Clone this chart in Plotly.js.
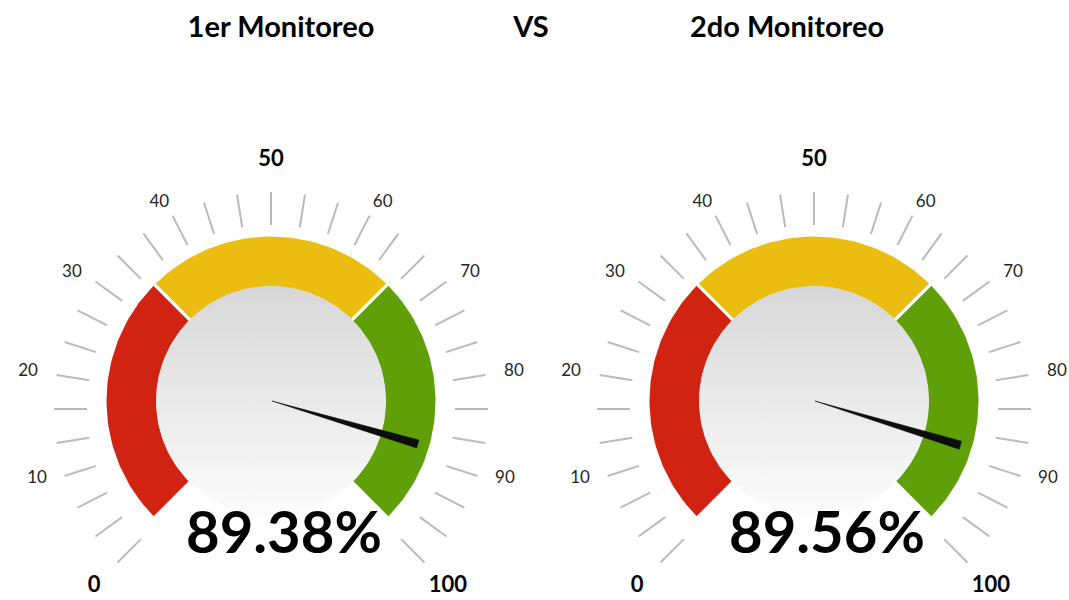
<!DOCTYPE html>
<html><head><meta charset="utf-8">
<script src="https://cdn.plot.ly/plotly-3.0.1.min.js"></script>
<style>html,body{margin:0;padding:0;background:#fff;overflow:hidden}</style>
</head><body><div id="chart" style="width:1069px;height:600px"></div>
<script>
// ---------------- data ----------------
const gaugeTitles = ['1er Monitoreo', '2do Monitoreo'];
const gaugeValues = [89.38, 89.56];
const separatorText = 'VS';
const scaleMin = 0;
const scaleMax = 100;
const tickLabelValues = [0, 10, 20, 30, 40, 50, 60, 70, 80, 90, 100];
const boldTickLabelValues = [0, 50, 100];
const minorTickIntervals = 30;
const bandFrom = [0, 33.333, 66.667];
const bandTo = [33.333, 66.667, 100];

// ---------------- layout / style ----------------
const W = 1069, H = 600;
const geo = {
  centersX: [271, 814],
  bandCenterY: H - 401,
  tickCenterY: H - 409,
  labelCenterY: H - 405, boldLabelCenterY: H - 407,
  textNudge: -3,
  startAngle: 225, sweep: 270,
  bandOuter: 166, bandInner: 115,
  tickInner: 184, tickOuter: 217,
  labelRx: 246, labelRy: 230, boldLabelR: 250,
  needleR: 153, needleHalfDeg: 1.55,
  valueDX: 13, valueY: H - 538,
  titleY: H - 30, titleX: [281, 787], vsX: 531
};
const style = {
  bandColors: ['#d12312', '#ebbd11', '#5f9f08'],
  tickColor: '#bababa',
  circleTop: '#d7d7d7', circleBottom: '#fcfcfc',
  needle: '#0d0d0d',
  font: 'Lato, "Open Sans", sans-serif'
};

function ang(v) { return (geo.startAngle - (v - scaleMin) / (scaleMax - scaleMin) * geo.sweep) * Math.PI / 180; }
function pt(cx, cy, r, a) { return [cx + r * Math.cos(a), cy + r * Math.sin(a)]; }

const traces = [];
gaugeValues.forEach((val, g) => {
  const cx = geo.centersX[g];
  const cyB = geo.bandCenterY, cyT = geo.tickCenterY;
  // ticks
  const tx = [], ty = [];
  for (let i = 0; i <= minorTickIntervals; i++) {
    const v = scaleMin + i * (scaleMax - scaleMin) / minorTickIntervals;
    const a = ang(v);
    const p1 = pt(cx, cyT, geo.tickInner, a), p2 = pt(cx, cyT, geo.tickOuter, a);
    tx.push(p1[0], p2[0], null); ty.push(p1[1], p2[1], null);
  }
  traces.push({type: 'scatter', mode: 'lines', x: tx, y: ty, line: {color: style.tickColor, width: 2}, hoverinfo: 'skip'});
  // bands
  bandFrom.forEach((b0, i) => {
    const b1 = bandTo[i];
    const xs = [], ys = [];
    const n = 60;
    for (let k = 0; k <= n; k++) { const p = pt(cx, cyB, geo.bandOuter, ang(b0 + (b1 - b0) * k / n)); xs.push(p[0]); ys.push(p[1]); }
    for (let k = n; k >= 0; k--) { const p = pt(cx, cyB, geo.bandInner - 2, ang(b0 + (b1 - b0) * k / n)); xs.push(p[0]); ys.push(p[1]); }
    xs.push(xs[0]); ys.push(ys[0]);
    traces.push({type: 'scatter', mode: 'lines', x: xs, y: ys, fill: 'toself', fillcolor: style.bandColors[i],
      line: {color: '#ffffff', width: 3}, hoverinfo: 'skip'});
  });
  // inner circle with vertical gradient
  const cxs = [], cys = [];
  for (let k = 0; k <= 180; k++) { const a = k / 180 * 2 * Math.PI; cxs.push(cx + geo.bandInner * Math.cos(a)); cys.push(cyB + geo.bandInner * Math.sin(a)); }
  traces.push({type: 'scatter', mode: 'lines', x: cxs, y: cys, fill: 'toself',
    fillgradient: {type: 'vertical', colorscale: [[0, style.circleBottom], [1, style.circleTop]]},
    line: {width: 0, color: 'rgba(0,0,0,0)'}, hoverinfo: 'skip'});
  // needle
  const a = ang(val), d = geo.needleHalfDeg * Math.PI / 180;
  const n1 = pt(cx, cyB, geo.needleR, a + d), n2 = pt(cx, cyB, geo.needleR, a - d);
  traces.push({type: 'scatter', mode: 'lines', x: [cx + 1, n1[0], n2[0], cx + 1], y: [cyB, n1[1], n2[1], cyB],
    fill: 'toself', fillcolor: style.needle, line: {color: style.needle, width: 0.5}, hoverinfo: 'skip'});
  // tick labels
  const reg = tickLabelValues.filter(v => !boldTickLabelValues.includes(v));
  const bold = tickLabelValues.filter(v => boldTickLabelValues.includes(v));
  traces.push({type: 'scatter', mode: 'text',
    x: reg.map(v => cx + geo.labelRx * Math.cos(ang(v))),
    y: reg.map(v => geo.labelCenterY + geo.labelRy * Math.sin(ang(v)) + geo.textNudge), text: reg.map(String),
    textfont: {family: style.font, size: 17, color: '#262626'}, textposition: 'middle center', hoverinfo: 'skip'});
  traces.push({type: 'scatter', mode: 'text',
    x: bold.map(v => cx + geo.boldLabelR * Math.cos(ang(v))),
    y: bold.map(v => geo.boldLabelCenterY + geo.boldLabelR * Math.sin(ang(v)) + geo.textNudge), text: bold.map(String),
    textfont: {family: style.font, size: 22, color: '#000000', weight: 'bold'}, textposition: 'middle center', hoverinfo: 'skip'});
  // value text
  traces.push({type: 'scatter', mode: 'text', x: [cx + geo.valueDX], y: [geo.valueY], text: [val.toFixed(2) + '%'],
    textfont: {family: style.font, size: 58, color: '#000000', weight: 'bold'}, textposition: 'middle center', hoverinfo: 'skip'});
  // title
  traces.push({type: 'scatter', mode: 'text', x: [geo.titleX[g]], y: [geo.titleY], text: [gaugeTitles[g]],
    textfont: {family: style.font, size: 29, color: '#000000', weight: 'bold'}, textposition: 'middle center', hoverinfo: 'skip'});
});
traces.push({type: 'scatter', mode: 'text', x: [geo.vsX], y: [geo.titleY], text: [separatorText],
  textfont: {family: style.font, size: 29, color: '#000000', weight: 'bold'}, textposition: 'middle center', hoverinfo: 'skip'});

const layout = {
  width: W, height: H, autosize: false,
  margin: {l: 0, r: 0, t: 0, b: 0, pad: 0},
  paper_bgcolor: '#ffffff', plot_bgcolor: '#ffffff',
  showlegend: false, hovermode: false,
  xaxis: {range: [0, W], visible: false, fixedrange: true},
  yaxis: {range: [0, H], visible: false, fixedrange: true}
};
Plotly.newPlot('chart', traces, layout, {displayModeBar: false, staticPlot: true});
</script></body></html>
